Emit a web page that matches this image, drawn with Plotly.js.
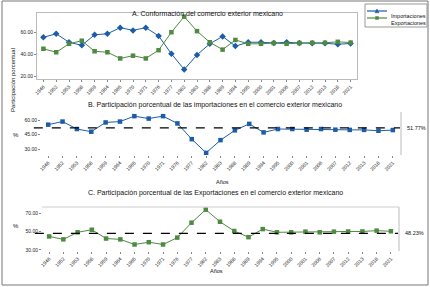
<!DOCTYPE html>
<html><head><meta charset="utf-8">
<script src="https://cdn.plot.ly/plotly-3.0.1.min.js"></script>
<style>html,body{margin:0;padding:0;background:#fff;}#c{width:430px;height:287px;}</style>
</head><body><div id="c"></div>
<script>
const years = ["1946","1952","1953","1958","1959","1964","1965","1970","1971","1976","1977","1982","1983","1988","1989","1994","1995","2000","2001","2006","2007","2012","2013","2018","2021"];
const importaciones = [55.2, 58.4, 50.7, 47.9, 57.5, 58.4, 64.0, 61.5, 64.0, 56.5, 40.2, 26.0, 39.2, 49.3, 56.0, 47.2, 50.7, 50.7, 50.0, 50.7, 50.0, 49.8, 49.8, 48.9, 49.6];
const exportaciones = [44.8, 41.6, 49.3, 52.1, 42.5, 41.6, 36.0, 38.5, 36.0, 43.5, 59.8, 74.0, 60.8, 50.7, 44.0, 52.8, 49.3, 49.3, 50.0, 49.3, 50.0, 50.2, 50.2, 51.1, 50.4];
const importMean = 51.77;
const exportMean = 48.23;
const seriesNames = ["Importaciones", "Exportaciones"];

const W = 430, H = 287;
const px = v => v / W, py = v => 1 - v / H;
const FONT = "Liberation Sans, Arial, sans-serif";
const BLUE = "#1c5ca8", GREEN = "#4e8a40";

const traces = [
  {x: years, y: importaciones, xaxis: "x", yaxis: "y", name: seriesNames[0], mode: "lines+markers",
   line: {color: BLUE, width: 1}, marker: {symbol: "diamond", size: 5, color: BLUE}},
  {x: years, y: exportaciones, xaxis: "x", yaxis: "y", name: seriesNames[1], mode: "lines+markers",
   line: {color: GREEN, width: 1}, marker: {symbol: "square", size: 4.5, color: GREEN}},
  {x: years, y: importaciones, xaxis: "x2", yaxis: "y2", mode: "lines+markers",
   line: {color: BLUE, width: 1}, marker: {symbol: "square", size: 4.5, color: BLUE}},
  {x: years, y: exportaciones, xaxis: "x3", yaxis: "y3", mode: "lines+markers",
   line: {color: GREEN, width: 1}, marker: {symbol: "square", size: 4.5, color: GREEN}}
];

const xcommon = {type: "category", range: [-0.5, years.length - 0.5], tickangle: -45,
  tickfont: {size: 5, family: FONT, color: "#222"}, ticks: "outside", ticklen: 2, tickcolor: "#888",
  showgrid: false, zeroline: false, fixedrange: true};
const ycommon = {tickformat: ".2f", ticksuffix: "%", tickfont: {size: 5, family: FONT, color: "#222"},
  ticks: "outside", ticklen: 2, tickcolor: "#888", showgrid: false, zeroline: false};

// custom compact legend (box, sample lines, symbols)
const legY1 = 11, legY2 = 18;
const legendShapes = [
  {type: "rect", xref: "paper", yref: "paper", x0: px(365), x1: px(427), y0: py(27), y1: py(4), line: {color: "#999", width: 1}, fillcolor: "#fff"},
  {type: "line", xref: "paper", yref: "paper", x0: px(367), x1: px(387), y0: py(legY1), y1: py(legY1), line: {color: BLUE, width: 1.2}},
  {type: "path", xref: "paper", yref: "paper", path: `M ${px(375)} ${py(legY1+1.8)} L ${px(379)} ${py(legY1+1.8)} L ${px(377)} ${py(legY1-2)} Z`, fillcolor: BLUE, line: {color: BLUE, width: 0.5}},
  {type: "line", xref: "paper", yref: "paper", x0: px(367), x1: px(387), y0: py(legY2), y1: py(legY2), line: {color: GREEN, width: 1.2}},
  {type: "rect", xref: "paper", yref: "paper", x0: px(375.5), x1: px(378.5), y0: py(legY2+1.5), y1: py(legY2-1.5), fillcolor: GREEN, line: {color: GREEN, width: 0.5}}
];

const layout = {
  width: W, height: H, margin: {l: 0, r: 0, t: 0, b: 0},
  paper_bgcolor: "#fff", plot_bgcolor: "#fff", font: {family: FONT, color: "#222"},
  showlegend: false,
  xaxis: Object.assign({}, xcommon, {domain: [px(37), px(357)], anchor: "y", showline: true, mirror: true, linecolor: "#bbb"}),
  yaxis: Object.assign({}, ycommon, {domain: [py(79), py(13)], anchor: "x", range: [17.3, 77.3], tickvals: [20, 40, 60], showline: true, mirror: true, linecolor: "#bbb"}),
  xaxis2: Object.assign({}, xcommon, {domain: [px(41), px(400)], anchor: "y2"}),
  yaxis2: Object.assign({}, ycommon, {domain: [py(155), py(112)], anchor: "x2", range: [23.8, 68.3], tickvals: [30, 45, 60]}),
  xaxis3: Object.assign({}, xcommon, {domain: [px(42), px(398)], anchor: "y3"}),
  yaxis3: Object.assign({}, ycommon, {domain: [py(251), py(207)], anchor: "x3", range: [28.9, 76.9], tickvals: [30, 50, 70]}),
  shapes: [
    {type: "rect", xref: "paper", yref: "paper", x0: px(2), x1: px(428), y0: py(285), y1: py(1), line: {color: "#777", width: 1}},
    {type: "line", xref: "x2 domain", yref: "y2", x0: -0.02, x1: 1, y0: importMean, y1: importMean, line: {color: "#000", width: 1.2, dash: "dash"}},
    {type: "line", xref: "x3 domain", yref: "y3", x0: -0.02, x1: 1, y0: exportMean, y1: exportMean, line: {color: "#000", width: 1.2, dash: "dash"}},
    {type: "line", xref: "paper", yref: "paper", x0: px(401), x1: px(401), y0: py(155), y1: py(112), line: {color: "#bbb", width: 1}},
    {type: "line", xref: "paper", yref: "paper", x0: px(399), x1: px(399), y0: py(251), y1: py(207), line: {color: "#bbb", width: 1}},
    {type: "line", xref: "paper", yref: "paper", x0: px(42), x1: px(399), y0: py(207), y1: py(207), line: {color: "#ccc", width: 1}}
  ].concat(legendShapes),
  annotations: [
    {text: "A. Conformación del comercio exterior mexicano", xref: "paper", yref: "paper", x: px(207), y: py(8), showarrow: false, font: {size: 7, family: FONT, color: "#111"}},
    {text: "B. Participación porcentual de las importaciones en el comercio exterior mexicano", xref: "paper", yref: "paper", x: px(215), y: py(105), showarrow: false, font: {size: 7, family: FONT, color: "#111"}},
    {text: "C. Participación porcentual de las Exportaciones en el comercio exterior mexicano", xref: "paper", yref: "paper", x: px(215), y: py(199), showarrow: false, font: {size: 7, family: FONT, color: "#111"}},
    {text: "Participación porcentual", xref: "paper", yref: "paper", x: px(8), y: py(46), textangle: -90, showarrow: false, font: {size: 6, family: FONT, color: "#111"}},
    {text: "%", xref: "paper", yref: "paper", x: px(11), y: py(135), showarrow: false, font: {size: 6, family: FONT, color: "#111"}},
    {text: "%", xref: "paper", yref: "paper", x: px(11), y: py(231), showarrow: false, font: {size: 6, family: FONT, color: "#111"}},
    {text: "Años", xref: "paper", yref: "paper", x: px(222), y: py(182), showarrow: false, font: {size: 5.5, family: FONT, color: "#111"}},
    {text: "Años", xref: "paper", yref: "paper", x: px(216), y: py(276), showarrow: false, font: {size: 5.5, family: FONT, color: "#111"}},
    {text: importMean.toFixed(2) + "%", xref: "paper", yref: "y2", x: px(405), y: importMean, xanchor: "left", showarrow: false, font: {size: 5.5, family: FONT, color: "#111"}},
    {text: exportMean.toFixed(2) + "%", xref: "paper", yref: "y3", x: px(403), y: exportMean, xanchor: "left", showarrow: false, font: {size: 5.5, family: FONT, color: "#111"}},
    {text: seriesNames[0], xref: "paper", yref: "paper", x: px(389), y: py(legY1), xanchor: "left", showarrow: false, font: {size: 5.5, family: FONT, color: "#111"}},
    {text: seriesNames[1], xref: "paper", yref: "paper", x: px(389), y: py(legY2), xanchor: "left", showarrow: false, font: {size: 5.5, family: FONT, color: "#111"}}
  ]
};

Plotly.newPlot("c", traces, layout, {displayModeBar: false, staticPlot: true});
</script></body></html>
